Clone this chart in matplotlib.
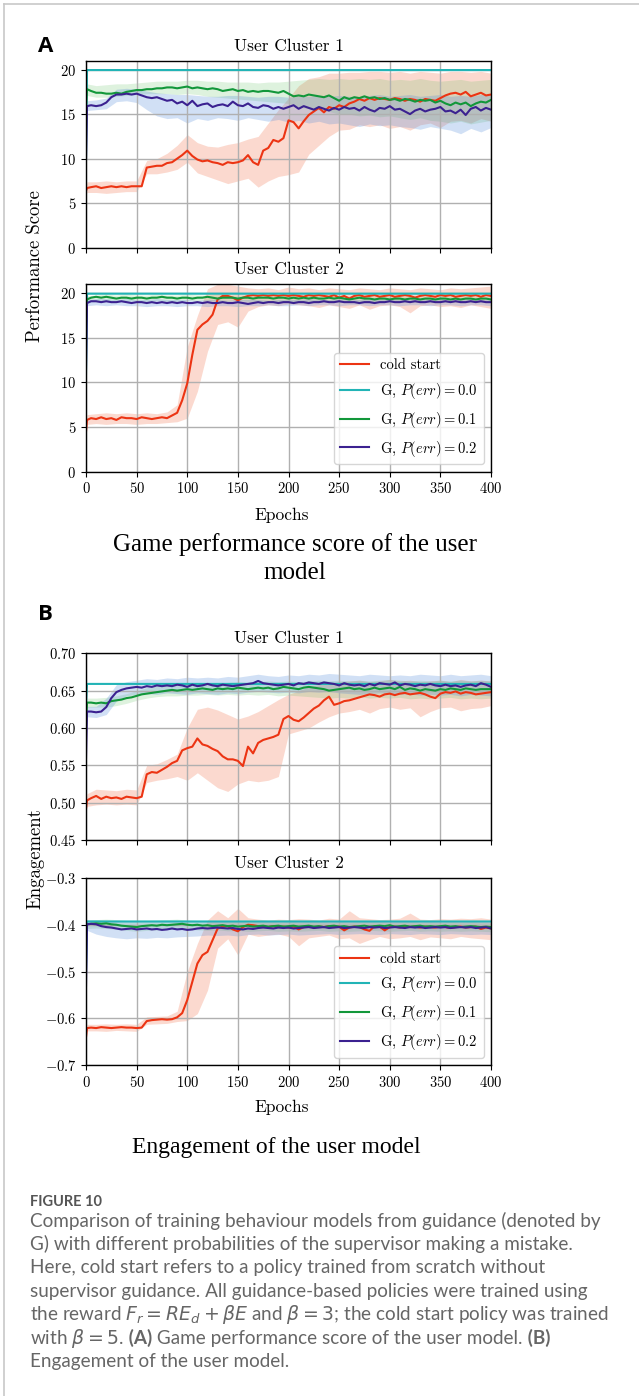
import numpy as np
import matplotlib
matplotlib.use('Agg')
import matplotlib.pyplot as plt
from matplotlib.lines import Line2D

plt.rcParams['font.family'] = 'cmr10'
plt.rcParams['mathtext.fontset'] = 'cm'
plt.rcParams['axes.formatter.use_mathtext'] = True
plt.rcParams['axes.unicode_minus'] = True

EPOCHS = np.r_[0, 1, np.arange(5, 401, 5)]
BAND_EPOCHS = np.r_[0, 1, np.arange(10, 401, 10)]
FLAT_EPOCHS = [0, 1, 400]

LABELS = ['cold start', 'G, $P(err) = 0.0$', 'G, $P(err) = 0.1$', 'G, $P(err) = 0.2$']

# ---------------- A : performance score, cluster 1
perf1_cold = [6.4, 6.7, 6.8, 6.9, 6.7, 6.8, 6.9, 6.8, 6.9, 6.8,
              6.9, 6.9, 6.9, 9.0, 9.1, 9.2, 9.2, 9.5, 9.6, 10.0,
              10.4, 10.9, 10.3, 9.9, 9.7, 9.8, 9.6, 9.5, 9.3, 9.6,
              9.5, 9.6, 9.8, 10.4, 9.6, 9.3, 10.9, 11.2, 12.1, 11.9,
              12.3, 14.3, 14.1, 13.4, 14.2, 14.9, 15.3, 15.7, 15.2, 15.8,
              15.6, 16.0, 15.8, 16.2, 16.4, 16.7, 16.5, 16.8, 16.6, 16.8,
              16.7, 16.6, 16.8, 16.7, 16.5, 16.7, 16.6, 16.4, 16.7, 16.6,
              16.5, 16.8, 17.1, 17.3, 17.4, 17.2, 17.5, 17.0, 17.2, 17.4,
              17.1, 17.2]
perf1_g00 = [10.0, 19.95, 19.95]
perf1_g01 = [16.0, 17.8, 17.6, 17.4, 17.4, 17.3, 17.3, 17.4, 17.3, 17.5,
             17.6, 17.7, 17.7, 17.8, 17.8, 17.9, 17.9, 18.0, 18.0, 17.9,
             18.0, 18.1, 17.9, 18.0, 17.9, 17.8, 17.9, 17.8, 17.6, 17.7,
             17.8, 17.6, 17.7, 17.5, 17.6, 17.5, 17.6, 17.6, 17.5, 17.4,
             17.6, 17.3, 17.0, 17.1, 17.0, 17.2, 17.1, 17.0, 16.9, 17.1,
             16.8, 16.5, 16.9, 16.7, 16.9, 16.8, 17.0, 16.8, 16.9, 16.7,
             16.8, 16.6, 16.7, 16.5, 16.7, 16.6, 16.4, 16.6, 16.5, 16.6,
             16.3, 16.5, 16.2, 16.0, 16.3, 16.1, 16.3, 15.9, 16.2, 16.4,
             16.3, 16.6]
perf1_g02 = [10.0, 15.9, 16.0, 15.9, 16.0, 16.3, 16.9, 17.2, 17.2, 17.3,
             17.2, 17.3, 17.1, 16.9, 16.8, 16.9, 16.7, 16.5, 16.6, 16.2,
             16.4, 16.0, 16.5, 15.9, 16.1, 16.2, 15.8, 16.0, 16.1, 15.9,
             16.4, 16.0, 15.9, 16.2, 15.8, 15.7, 16.0, 15.9, 15.6, 15.8,
             15.6, 15.8, 16.0, 15.6, 15.9, 15.7, 15.5, 15.8, 15.6, 15.4,
             15.7, 15.5, 15.8, 15.6, 15.7, 15.4, 15.8, 15.5, 15.3, 15.7,
             15.6, 15.9, 15.5, 15.6, 15.3, 15.0, 15.4, 15.6, 15.3, 15.5,
             15.6, 15.8, 15.3, 15.4, 15.1, 15.5, 14.9, 15.6, 15.8, 15.4,
             15.7, 15.5]
perf1_cold_lo = [6.0, 6.2, 6.2, 6.1, 6.2, 6.3, 6.3, 8.3, 8.3, 8.5,
                 8.8, 9.6, 8.4, 8.0, 7.6, 7.2, 7.5, 7.8, 6.8, 7.5,
                 8.0, 8.2, 8.5, 10.5, 11.5, 12.5, 13.2, 13.3, 13.8, 13.6,
                 13.8, 13.4, 13.6, 13.2, 13.8, 14.0, 13.5, 14.2, 14.3, 14.0,
                 14.5, 14.2]
perf1_cold_hi = [7.0, 7.4, 7.4, 7.5, 7.4, 7.5, 7.5, 9.8, 10.0, 10.6,
                 11.5, 12.7, 11.8, 11.4, 11.3, 11.6, 11.8, 12.2, 12.5, 14.0,
                 15.5, 16.8, 18.2, 19.0, 19.2, 19.6, 19.6, 19.7, 19.7, 19.8,
                 19.8, 19.7, 19.8, 19.6, 19.8, 19.7, 19.6, 19.8, 19.8, 19.7,
                 19.8, 19.6]
perf1_g01_lo = [15.0, 17.1, 16.9, 16.9, 17.0, 17.1, 17.2, 17.3, 17.3, 17.3,
                17.2, 17.3, 17.2, 17.0, 16.9, 16.8, 16.7, 16.6, 16.5, 16.4,
                16.3, 16.2, 15.8, 15.6, 15.5, 15.3, 15.0, 15.0, 14.8, 14.9,
                14.7, 14.8, 14.6, 14.4, 14.6, 14.3, 14.2, 14.0, 14.2, 13.9,
                14.1, 14.3]
perf1_g01_hi = [17.0, 18.4, 18.2, 18.3, 18.4, 18.4, 18.5, 18.6, 18.7, 18.7,
                18.7, 18.8, 18.8, 18.7, 18.7, 18.6, 18.6, 18.6, 18.5, 18.6,
                18.6, 18.7, 18.8, 18.9, 19.0, 18.9, 19.0, 18.9, 19.0, 18.9,
                19.0, 18.8, 18.9, 18.8, 19.0, 18.8, 18.7, 18.8, 18.9, 18.7,
                18.8, 18.9]
perf1_g02_lo = [9.5, 15.4, 15.5, 15.6, 16.4, 16.5, 16.3, 15.5, 14.8, 14.5,
                14.6, 14.0, 14.5, 14.3, 14.6, 14.5, 14.3, 14.6, 14.4, 14.2,
                14.4, 14.1, 14.3, 14.0, 14.2, 13.9, 14.0, 13.8, 13.6, 13.9,
                13.7, 13.8, 13.6, 13.5, 13.3, 13.6, 13.4, 13.2, 12.8, 13.4,
                13.0, 13.5]
perf1_g02_hi = [10.5, 16.5, 16.6, 16.8, 17.8, 17.9, 17.8, 17.6, 17.4, 17.3,
                17.2, 17.2, 17.1, 17.0, 17.0, 17.1, 17.1, 17.0, 16.9, 17.0,
                17.0, 16.9, 17.0, 17.0, 17.1, 17.0, 17.1, 17.0, 16.9, 17.1,
                17.2, 17.0, 17.1, 17.2, 17.0, 17.1, 17.2, 17.0, 17.1, 17.0,
                17.2, 17.1]

# ---------------- A : performance score, cluster 2
perf2_cold = [4.5, 5.8, 6.0, 5.9, 6.1, 5.9, 6.0, 5.8, 6.1, 6.0,
              6.0, 5.9, 6.1, 6.0, 5.9, 6.0, 6.1, 6.0, 6.3, 6.6,
              8.0, 9.9, 13.1, 15.9, 16.5, 16.9, 17.6, 19.3, 19.7, 19.7,
              19.5, 19.2, 19.5, 19.7, 19.8, 19.7, 19.8, 19.7, 19.8, 19.7,
              19.8, 19.7, 19.8, 19.7, 19.6, 19.8, 19.7, 19.8, 19.7, 19.6,
              19.8, 19.5, 19.7, 19.4, 19.7, 19.8, 19.6, 19.7, 19.8, 19.6,
              19.7, 19.8, 19.6, 19.7, 19.8, 19.7, 19.5, 19.7, 19.8, 19.7,
              19.6, 19.8, 19.7, 19.8, 19.6, 19.7, 19.8, 19.7, 19.8, 19.6,
              19.8, 19.7]
perf2_g00 = [11.0, 19.95, 19.95]
perf2_g01 = [16.5, 19.3, 19.5, 19.6, 19.5, 19.6, 19.5, 19.4, 19.5, 19.5,
             19.4, 19.5, 19.5, 19.4, 19.5, 19.5, 19.6, 19.5, 19.5, 19.4,
             19.5, 19.5, 19.4, 19.5, 19.5, 19.6, 19.5, 19.4, 19.5, 19.5,
             19.5, 19.4, 19.5, 19.5, 19.4, 19.5, 19.5, 19.5, 19.4, 19.5,
             19.5, 19.4, 19.5, 19.4, 19.5, 19.4, 19.5, 19.4, 19.4, 19.5,
             19.4, 19.5, 19.4, 19.3, 19.4, 19.5, 19.4, 19.4, 19.3, 19.4,
             19.4, 19.3, 19.4, 19.4, 19.3, 19.4, 19.4, 19.3, 19.4, 19.4,
             19.3, 19.4, 19.4, 19.3, 19.4, 19.3, 19.4, 19.4, 19.3, 19.4,
             19.4, 19.3]
perf2_g02 = [11.5, 18.9, 19.1, 19.1, 19.0, 19.1, 19.0, 19.0, 19.1, 19.0,
             18.9, 19.0, 19.0, 18.9, 19.0, 18.9, 19.0, 18.9, 19.0, 18.9,
             19.0, 18.9, 18.9, 19.0, 18.9, 19.0, 18.9, 18.9, 19.0, 18.9,
             18.9, 19.0, 18.9, 18.8, 18.9, 19.0, 18.9, 19.0, 19.0, 18.9,
             19.0, 19.0, 18.9, 19.0, 19.0, 18.9, 19.0, 19.0, 19.1, 19.0,
             19.0, 19.1, 19.0, 19.0, 19.0, 18.9, 19.0, 19.0, 18.9, 19.0,
             19.0, 19.1, 19.0, 19.0, 19.1, 19.0, 19.1, 19.0, 19.0, 19.1,
             19.0, 19.0, 19.1, 19.0, 19.1, 19.0, 19.0, 19.1, 19.0, 19.1,
             19.0, 19.0]
perf2_cold_lo = [4.0, 5.3, 5.4, 5.3, 5.4, 5.4, 5.3, 5.4, 5.4, 5.5,
                 5.6, 6.0, 9.0, 13.5, 16.5, 16.8, 16.2, 18.0, 18.5, 18.7,
                 18.6, 18.8, 18.7, 18.6, 18.4, 18.7, 18.5, 18.3, 18.7, 18.2,
                 18.6, 18.7, 18.5, 17.8, 18.6, 18.7, 18.5, 18.6, 18.4, 18.7,
                 18.5, 18.3]
perf2_cold_hi = [5.0, 6.4, 6.5, 6.6, 6.5, 6.6, 6.5, 6.6, 6.5, 6.7,
                 7.5, 14.0, 17.5, 20.5, 21.0, 21.0, 20.8, 20.6, 20.5, 20.6,
                 20.4, 20.7, 20.5, 20.6, 20.4, 20.6, 20.5, 20.4, 20.6, 20.5,
                 20.4, 20.6, 20.5, 20.4, 20.6, 20.5, 20.4, 20.6, 20.5, 20.6,
                 20.7, 20.8]
perf2_g01_lo = [16.0, 19.0, 19.2, 19.1, 19.2, 19.1, 19.2, 19.1, 19.2, 19.1,
                19.1, 19.2, 19.1, 19.2, 19.1, 19.1, 19.2, 19.1, 19.1, 19.0,
                19.1, 19.1, 19.0, 19.1, 19.0, 19.1, 19.0, 19.0, 19.1, 19.0,
                19.0, 19.1, 19.0, 19.0, 19.1, 19.0, 19.0, 19.0, 19.1, 19.0,
                19.0, 19.0]
perf2_g01_hi = [17.0, 19.7, 19.8, 19.9, 19.8, 19.9, 19.8, 19.8, 19.9, 19.8,
                19.8, 19.9, 19.8, 19.8, 19.9, 19.8, 19.8, 19.8, 19.9, 19.8,
                19.8, 19.8, 19.7, 19.8, 19.8, 19.7, 19.8, 19.7, 19.8, 19.7,
                19.8, 19.7, 19.7, 19.8, 19.7, 19.7, 19.8, 19.7, 19.7, 19.8,
                19.7, 19.7]
perf2_g02_lo = [11.0, 18.6, 18.7, 18.6, 18.7, 18.6, 18.6, 18.5, 18.6, 18.6,
                18.5, 18.6, 18.6, 18.5, 18.6, 18.6, 18.5, 18.6, 18.6, 18.7,
                18.6, 18.6, 18.7, 18.6, 18.7, 18.7, 18.6, 18.7, 18.7, 18.6,
                18.7, 18.7, 18.6, 18.7, 18.7, 18.6, 18.7, 18.7, 18.6, 18.7,
                18.7, 18.6]
perf2_g02_hi = [12.0, 19.3, 19.4, 19.4, 19.3, 19.4, 19.3, 19.3, 19.4, 19.3,
                19.3, 19.3, 19.2, 19.3, 19.3, 19.2, 19.3, 19.3, 19.3, 19.2,
                19.3, 19.3, 19.3, 19.4, 19.3, 19.3, 19.4, 19.3, 19.3, 19.4,
                19.3, 19.4, 19.3, 19.3, 19.4, 19.3, 19.4, 19.3, 19.3, 19.4,
                19.3, 19.3]

# ---------------- B : engagement, cluster 1
eng1_cold = [0.492, 0.503, 0.506, 0.509, 0.505, 0.508, 0.506, 0.507, 0.505, 0.508,
             0.507, 0.506, 0.508, 0.538, 0.541, 0.540, 0.544, 0.548, 0.553, 0.556,
             0.570, 0.573, 0.575, 0.586, 0.578, 0.576, 0.572, 0.569, 0.562, 0.558,
             0.558, 0.556, 0.549, 0.575, 0.566, 0.580, 0.584, 0.586, 0.588, 0.591,
             0.612, 0.616, 0.611, 0.609, 0.614, 0.620, 0.626, 0.630, 0.637, 0.642,
             0.631, 0.633, 0.636, 0.637, 0.639, 0.641, 0.643, 0.645, 0.644, 0.642,
             0.645, 0.646, 0.644, 0.646, 0.647, 0.645, 0.646, 0.647, 0.645, 0.642,
             0.640, 0.646, 0.648, 0.647, 0.649, 0.646, 0.648, 0.647, 0.645, 0.646,
             0.647, 0.648]
eng1_g00 = [0.630, 0.659, 0.659]
eng1_g01 = [0.600, 0.634, 0.634, 0.633, 0.634, 0.633, 0.636, 0.637, 0.638, 0.640,
            0.641, 0.643, 0.645, 0.646, 0.647, 0.648, 0.649, 0.650, 0.651, 0.650,
            0.651, 0.652, 0.651, 0.652, 0.653, 0.652, 0.651, 0.653, 0.652, 0.653,
            0.652, 0.654, 0.653, 0.652, 0.653, 0.654, 0.653, 0.654, 0.652, 0.653,
            0.655, 0.654, 0.653, 0.652, 0.654, 0.655, 0.654, 0.653, 0.652, 0.650,
            0.651, 0.652, 0.653, 0.654, 0.652, 0.653, 0.651, 0.652, 0.654, 0.652,
            0.653, 0.654, 0.652, 0.655, 0.651, 0.653, 0.652, 0.650, 0.652, 0.651,
            0.650, 0.652, 0.651, 0.653, 0.652, 0.651, 0.653, 0.652, 0.651, 0.652,
            0.652, 0.652]
eng1_g02 = [0.560, 0.622, 0.622, 0.621, 0.622, 0.628, 0.640, 0.648, 0.651, 0.653,
            0.654, 0.655, 0.654, 0.656, 0.655, 0.657, 0.656, 0.657, 0.656, 0.658,
            0.657, 0.655, 0.658, 0.656, 0.657, 0.659, 0.657, 0.656, 0.658, 0.657,
            0.656, 0.657, 0.658, 0.659, 0.660, 0.663, 0.660, 0.659, 0.658, 0.657,
            0.658, 0.659, 0.657, 0.660, 0.659, 0.661, 0.660, 0.659, 0.661, 0.660,
            0.659, 0.657, 0.660, 0.658, 0.657, 0.658, 0.656, 0.659, 0.657, 0.660,
            0.659, 0.658, 0.661, 0.657, 0.659, 0.658, 0.656, 0.658, 0.657, 0.659,
            0.657, 0.656, 0.658, 0.656, 0.657, 0.655, 0.657, 0.658, 0.656, 0.660,
            0.658, 0.655]
eng1_cold_lo = [0.485, 0.495, 0.497, 0.498, 0.497, 0.498, 0.497, 0.527, 0.530, 0.532,
                0.535, 0.530, 0.540, 0.530, 0.520, 0.515, 0.525, 0.530, 0.528, 0.530,
                0.535, 0.592, 0.596, 0.600, 0.608, 0.615, 0.620, 0.622, 0.625, 0.620,
                0.626, 0.628, 0.625, 0.627, 0.615, 0.622, 0.627, 0.628, 0.623, 0.626,
                0.627, 0.630]
eng1_cold_hi = [0.500, 0.512, 0.518, 0.517, 0.516, 0.518, 0.517, 0.550, 0.552, 0.558,
                0.565, 0.600, 0.625, 0.628, 0.624, 0.618, 0.612, 0.616, 0.622, 0.630,
                0.638, 0.645, 0.650, 0.655, 0.658, 0.660, 0.662, 0.663, 0.664, 0.662,
                0.663, 0.665, 0.663, 0.664, 0.662, 0.663, 0.664, 0.662, 0.665, 0.663,
                0.664, 0.663]
eng1_g01_lo = [0.595, 0.628, 0.628, 0.628, 0.630, 0.633, 0.637, 0.640, 0.642, 0.643,
               0.643, 0.644, 0.644, 0.645, 0.644, 0.645, 0.644, 0.645, 0.644, 0.645,
               0.643, 0.644, 0.643, 0.642, 0.641, 0.640, 0.641, 0.640, 0.642, 0.640,
               0.641, 0.640, 0.641, 0.639, 0.640, 0.639, 0.640, 0.641, 0.639, 0.640,
               0.639, 0.640]
eng1_g01_hi = [0.605, 0.640, 0.640, 0.641, 0.643, 0.646, 0.650, 0.654, 0.656, 0.658,
               0.659, 0.660, 0.660, 0.661, 0.660, 0.661, 0.662, 0.661, 0.662, 0.663,
               0.662, 0.663, 0.662, 0.663, 0.664, 0.663, 0.664, 0.663, 0.664, 0.663,
               0.664, 0.665, 0.664, 0.663, 0.664, 0.663, 0.664, 0.663, 0.664, 0.663,
               0.664, 0.663]
eng1_g02_lo = [0.555, 0.615, 0.614, 0.618, 0.636, 0.643, 0.645, 0.646, 0.645, 0.647,
               0.646, 0.645, 0.647, 0.646, 0.645, 0.647, 0.646, 0.648, 0.649, 0.648,
               0.647, 0.648, 0.647, 0.649, 0.648, 0.649, 0.647, 0.646, 0.645, 0.646,
               0.647, 0.646, 0.645, 0.646, 0.644, 0.645, 0.644, 0.645, 0.643, 0.645,
               0.644, 0.643]
eng1_g02_hi = [0.565, 0.629, 0.629, 0.640, 0.658, 0.662, 0.664, 0.666, 0.665, 0.667,
               0.666, 0.668, 0.667, 0.668, 0.667, 0.669, 0.668, 0.670, 0.672, 0.670,
               0.669, 0.671, 0.670, 0.672, 0.671, 0.673, 0.672, 0.671, 0.670, 0.672,
               0.671, 0.670, 0.671, 0.670, 0.672, 0.671, 0.670, 0.672, 0.670, 0.671,
               0.672, 0.670]

# ---------------- B : engagement, cluster 2
eng2_cold = [-0.640, -0.621, -0.620, -0.621, -0.619, -0.620, -0.621, -0.620, -0.619, -0.620,
             -0.620, -0.621, -0.620, -0.606, -0.604, -0.603, -0.602, -0.603, -0.602, -0.598,
             -0.589, -0.561, -0.522, -0.483, -0.465, -0.458, -0.433, -0.408, -0.404, -0.403,
             -0.410, -0.414, -0.405, -0.400, -0.401, -0.403, -0.404, -0.405, -0.403, -0.405,
             -0.404, -0.406, -0.404, -0.410, -0.405, -0.403, -0.406, -0.404, -0.405, -0.403,
             -0.405, -0.404, -0.412, -0.406, -0.404, -0.405, -0.410, -0.413, -0.403, -0.404,
             -0.412, -0.405, -0.404, -0.406, -0.403, -0.405, -0.404, -0.406, -0.404, -0.405,
             -0.406, -0.404, -0.405, -0.407, -0.405, -0.404, -0.406, -0.405, -0.404, -0.409,
             -0.406, -0.408]
eng2_g00 = [-0.500, -0.393, -0.393]
eng2_g01 = [-0.420, -0.399, -0.398, -0.397, -0.398, -0.397, -0.399, -0.400, -0.402, -0.403,
            -0.404, -0.405, -0.403, -0.402, -0.401, -0.402, -0.400, -0.401, -0.400, -0.399,
            -0.398, -0.400, -0.401, -0.400, -0.402, -0.401, -0.403, -0.402, -0.401, -0.403,
            -0.402, -0.404, -0.403, -0.402, -0.404, -0.403, -0.402, -0.404, -0.403, -0.402,
            -0.404, -0.403, -0.402, -0.404, -0.403, -0.402, -0.404, -0.403, -0.405, -0.403,
            -0.402, -0.404, -0.403, -0.405, -0.404, -0.403, -0.402, -0.404, -0.403, -0.402,
            -0.403, -0.401, -0.404, -0.403, -0.402, -0.404, -0.403, -0.402, -0.404, -0.403,
            -0.404, -0.403, -0.402, -0.404, -0.403, -0.405, -0.404, -0.403, -0.404, -0.405,
            -0.404, -0.405]
eng2_g02 = [-0.530, -0.399, -0.398, -0.399, -0.403, -0.405, -0.406, -0.408, -0.410, -0.409,
            -0.408, -0.410, -0.409, -0.408, -0.410, -0.409, -0.411, -0.410, -0.408, -0.410,
            -0.409, -0.411, -0.410, -0.408, -0.407, -0.408, -0.407, -0.406, -0.407, -0.408,
            -0.407, -0.409, -0.410, -0.408, -0.409, -0.407, -0.406, -0.407, -0.408, -0.406,
            -0.407, -0.406, -0.408, -0.407, -0.406, -0.405, -0.407, -0.406, -0.405, -0.407,
            -0.406, -0.405, -0.407, -0.406, -0.405, -0.406, -0.407, -0.405, -0.406, -0.405,
            -0.407, -0.406, -0.405, -0.406, -0.407, -0.405, -0.406, -0.405, -0.407, -0.406,
            -0.405, -0.406, -0.405, -0.407, -0.406, -0.405, -0.406, -0.405, -0.407, -0.406,
            -0.405, -0.408]
eng2_cold_lo = [-0.650, -0.627, -0.627, -0.628, -0.626, -0.627, -0.628, -0.613, -0.612, -0.611,
                -0.607, -0.605, -0.590, -0.540, -0.450, -0.430, -0.465, -0.420, -0.425, -0.422,
                -0.420, -0.425, -0.445, -0.428, -0.425, -0.422, -0.430, -0.428, -0.440, -0.432,
                -0.425, -0.430, -0.428, -0.425, -0.432, -0.426, -0.428, -0.430, -0.425, -0.428,
                -0.430, -0.432]
eng2_cold_hi = [-0.630, -0.613, -0.613, -0.612, -0.613, -0.612, -0.613, -0.597, -0.596, -0.595,
                -0.585, -0.500, -0.440, -0.390, -0.370, -0.385, -0.365, -0.385, -0.388, -0.390,
                -0.388, -0.389, -0.387, -0.388, -0.390, -0.386, -0.388, -0.370, -0.385, -0.387,
                -0.389, -0.388, -0.386, -0.375, -0.388, -0.389, -0.387, -0.388, -0.386, -0.387,
                -0.385, -0.388]
eng2_g01_lo = [-0.430, -0.408, -0.407, -0.408, -0.410, -0.412, -0.414, -0.412, -0.411, -0.410,
               -0.409, -0.410, -0.411, -0.412, -0.411, -0.413, -0.412, -0.414, -0.413, -0.412,
               -0.414, -0.413, -0.414, -0.413, -0.412, -0.414, -0.413, -0.414, -0.413, -0.412,
               -0.413, -0.414, -0.413, -0.412, -0.414, -0.413, -0.414, -0.413, -0.414, -0.413,
               -0.414, -0.415]
eng2_g01_hi = [-0.410, -0.390, -0.389, -0.388, -0.389, -0.391, -0.393, -0.391, -0.390, -0.389,
               -0.388, -0.390, -0.391, -0.392, -0.391, -0.393, -0.392, -0.394, -0.393, -0.392,
               -0.394, -0.393, -0.394, -0.393, -0.392, -0.394, -0.393, -0.394, -0.393, -0.392,
               -0.393, -0.394, -0.393, -0.392, -0.394, -0.393, -0.394, -0.393, -0.394, -0.393,
               -0.394, -0.395]
eng2_g02_lo = [-0.540, -0.412, -0.420, -0.425, -0.428, -0.430, -0.428, -0.429, -0.427, -0.428,
               -0.426, -0.425, -0.424, -0.422, -0.423, -0.422, -0.424, -0.421, -0.420, -0.422,
               -0.421, -0.420, -0.422, -0.421, -0.420, -0.419, -0.421, -0.420, -0.419, -0.420,
               -0.421, -0.419, -0.420, -0.421, -0.419, -0.420, -0.421, -0.419, -0.420, -0.421,
               -0.420, -0.421]
eng2_g02_hi = [-0.520, -0.390, -0.390, -0.391, -0.392, -0.391, -0.392, -0.393, -0.392, -0.393,
               -0.392, -0.393, -0.392, -0.393, -0.392, -0.393, -0.392, -0.393, -0.392, -0.393,
               -0.392, -0.391, -0.392, -0.393, -0.392, -0.391, -0.392, -0.391, -0.392, -0.391,
               -0.392, -0.391, -0.392, -0.391, -0.392, -0.391, -0.392, -0.391, -0.392, -0.391,
               -0.392, -0.391]

RED, CYAN, GREEN, PURPLE = '#ec3413', '#22b4b6', '#12973a', '#3b2190'
BAND_RED, BAND_GREEN, BAND_BLUE = '#f26a40', '#5cbf5c', '#4a86d8'

W, H = 639, 1396
fig = plt.figure(figsize=(W / 100, H / 100), dpi=100)


def px_axes(left, top, right, bottom):
    return fig.add_axes([left / W, 1 - bottom / H, (right - left) / W, (bottom - top) / H])


def draw_panel(ax, cold, g00, g01, g02, cold_band, g01_band, g02_band, ylim, yticks, show_x):
    ax.fill_between(BAND_EPOCHS, cold_band[0], cold_band[1], color=BAND_RED, alpha=0.25, lw=0)
    ax.fill_between(BAND_EPOCHS, g01_band[0], g01_band[1], color=BAND_GREEN, alpha=0.2, lw=0)
    ax.fill_between(BAND_EPOCHS, g02_band[0], g02_band[1], color=BAND_BLUE, alpha=0.25, lw=0)
    ax.plot(EPOCHS, cold, color=RED, lw=1.5, label=LABELS[0])
    ax.plot(FLAT_EPOCHS, g00, color=CYAN, lw=1.5, label=LABELS[1])
    ax.plot(EPOCHS, g01, color=GREEN, lw=1.5, label=LABELS[2])
    ax.plot(EPOCHS, g02, color=PURPLE, lw=1.5, label=LABELS[3])
    ax.set_xlim(0, 400)
    ax.set_ylim(*ylim)
    ax.set_xticks(np.arange(0, 401, 50))
    ax.set_yticks(yticks)
    ax.grid(True, color='#b0b0b0', lw=1.0)
    ax.tick_params(labelsize=10.5, labelbottom=show_x)
    for s in ax.spines.values():
        s.set_linewidth(1.0)


L, R = 86, 491
axA1 = px_axes(L, 60.7, R, 247.7)
axA2 = px_axes(L, 284.3, R, 471.7)
axB1 = px_axes(L, 653.3, R, 840)
axB2 = px_axes(L, 878, R, 1065)

draw_panel(axA1, perf1_cold, perf1_g00, perf1_g01, perf1_g02,
           (perf1_cold_lo, perf1_cold_hi), (perf1_g01_lo, perf1_g01_hi), (perf1_g02_lo, perf1_g02_hi),
           (0, 21), [0, 5, 10, 15, 20], False)
draw_panel(axA2, perf2_cold, perf2_g00, perf2_g01, perf2_g02,
           (perf2_cold_lo, perf2_cold_hi), (perf2_g01_lo, perf2_g01_hi), (perf2_g02_lo, perf2_g02_hi),
           (0, 21), [0, 5, 10, 15, 20], True)
draw_panel(axB1, eng1_cold, eng1_g00, eng1_g01, eng1_g02,
           (eng1_cold_lo, eng1_cold_hi), (eng1_g01_lo, eng1_g01_hi), (eng1_g02_lo, eng1_g02_hi),
           (0.45, 0.70), [0.45, 0.50, 0.55, 0.60, 0.65, 0.70], False)
draw_panel(axB2, eng2_cold, eng2_g00, eng2_g01, eng2_g02,
           (eng2_cold_lo, eng2_cold_hi), (eng2_g01_lo, eng2_g01_hi), (eng2_g02_lo, eng2_g02_hi),
           (-0.7, -0.3), [-0.7, -0.6, -0.5, -0.4, -0.3], True)

for ax in (axA2, axB2):
    leg = ax.legend(loc='lower right', fontsize=10.5, labelspacing=0.6,
                    handlelength=2.0, fancybox=True, framealpha=0.8, edgecolor='#cccccc')

# panel titles and axis labels
cx = (L + R) / 2 / W
for y, s in [(46, 'User Cluster 1'), (269, 'User Cluster 2'),
             (638, 'User Cluster 1'), (863, 'User Cluster 2')]:
    fig.text(cx, 1 - y / H, s, ha='center', va='center', fontsize=12.5)
fig.text(35 / W, 1 - 266 / H, 'Performance Score', rotation=90, ha='center', va='center', fontsize=13.5)
fig.text(35 / W, 1 - 859 / H, 'Engagement', rotation=90, ha='center', va='center', fontsize=13.5)
fig.text(282 / W, 1 - 515 / H, 'Epochs', ha='center', va='center', fontsize=12.5)
fig.text(282 / W, 1 - 1107 / H, 'Epochs', ha='center', va='center', fontsize=12.5)

serif = 'Liberation Serif'
fig.text(295 / W, 1 - 545 / H, 'Game performance score of the user', ha='center', va='center',
         fontsize=18, family=serif)
fig.text(295 / W, 1 - 573 / H, 'model', ha='center', va='center', fontsize=18, family=serif)
fig.text(276 / W, 1 - 1147 / H, 'Engagement of the user model', ha='center', va='center',
         fontsize=17, family=serif)

fig.text(38 / W, 1 - 47 / H, 'A', ha='left', va='center', fontsize=16, fontweight='bold', family='Open Sans')
fig.text(38 / W, 1 - 615 / H, 'B', ha='left', va='center', fontsize=16, fontweight='bold', family='Open Sans')

# frame lines of the page
fig.add_artist(Line2D([4 / W, 4 / W], [0, 1 - 4 / H], color='#c8c8c8', lw=1.2))
fig.add_artist(Line2D([4 / W, 1], [1 - 4 / H, 1 - 4 / H], color='#c8c8c8', lw=1.2))

# caption
CAP = 'Lato'
CAP_COLOR = '#666666'
fig.text(30 / W, 1 - 1206 / H, 'FIGURE 10', fontsize=10.5, fontweight='bold', color='#555555',
         family=CAP, va='baseline')

caption_lines = [
    [('Comparison of training behaviour models from guidance (denoted by', 'normal')],
    [('G) with different probabilities of the supervisor making a mistake.', 'normal')],
    [('Here, cold start refers to a policy trained from scratch without', 'normal')],
    [('supervisor guidance. All guidance-based policies were trained using', 'normal')],
    [(r'the reward $F_r = RE_d + \beta E$ and $\beta = 3$; the cold start policy was trained', 'normal')],
    [(r'with $\beta = 5$.', 'normal'), (' (A)', 'bold'),
     (' Game performance score of the user model.', 'normal'), (' (B)', 'bold')],
    [('Engagement of the user model.', 'normal')],
]
baselines = [1226.7, 1250, 1273.3, 1296.7, 1320, 1344, 1367.5]
renderer = fig.canvas.get_renderer()
for yb, chunks in zip(baselines, caption_lines):
    x = 30
    for s, w in chunks:
        t = fig.text(x / W, 1 - yb / H, s, fontsize=13.6, fontweight=w, color=CAP_COLOR,
                     family=CAP, va='baseline', math_fontfamily='dejavusans')
        x += t.get_window_extent(renderer).width

fig.savefig('out.png', dpi=100)
